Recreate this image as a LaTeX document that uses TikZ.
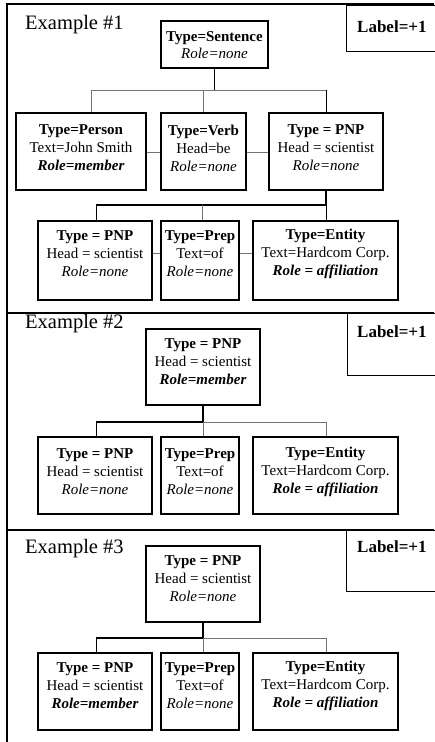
\documentclass[tikz,border=0pt]{standalone}
\usepackage{fontspec}
\setmainfont{Liberation Serif}
\newcommand{\tbx}[7]{%
  \node[box, minimum width=#4pt, minimum height=#5pt] (#1) at (#2,#3) {};
  \node[txt] (#1t) at (#2,#6) {#7};}
\begin{document}
\begin{tikzpicture}[x=1pt,y=-1pt,
  box/.style={draw=black, line width=1.2pt, inner sep=0pt},
  txt/.style={align=center, font=\fontsize{15}{18}\selectfont, inner sep=0pt},
  frame/.style={line width=1.6pt, draw=black},
  thk/.style={line width=1.4pt, draw=black},
  med/.style={line width=1pt, draw=black},
  thn/.style={line width=0.8pt, draw=black!55},
  ex/.style={font=\fontsize{20.5}{23}\selectfont, anchor=base west, inner sep=0pt},
  lab/.style={font=\bfseries\fontsize{17}{20}\selectfont, anchor=base west, inner sep=0pt}]
\useasboundingbox (0,0) rectangle (434,742);
\fill[white] (0,0) rectangle (434,742);

% frame
\draw[frame] (434,4) -- (7,4) -- (7,742);
\draw[frame] (7,313) -- (434,313);
\draw[frame] (7,530) -- (434,530);

% label boxes
\draw[med] (436,5) -- (346,5) -- (346,51) -- (436,51);
\draw[med] (436,313) -- (347,313) -- (347,375) -- (436,375);
\draw[med] (436,530) -- (346,530) -- (346,591) -- (436,591);
\node[lab] (lab1) at (357,32) {Label=+1};
\node[lab] (lab2) at (357,337) {Label=+1};
\node[lab] (lab3) at (357,552) {Label=+1};

\node[ex] (ex1) at (25,29) {Example \#1};
\node[ex] (ex2) at (25,328) {Example \#2};
\node[ex] (ex3) at (25,553) {Example \#3};

% ---------- Example 1 ----------
\tbx{sent}{214.5}{44.5}{107}{47}{45.5}{\textbf{Type=Sentence}\\[-1pt]\textit{Role=none}}
\tbx{person}{81}{151.5}{130}{77}{148}{\textbf{Type=Person}\\Text=John Smith\\\textbf{\textit{Role=member}}}
\tbx{verb}{203.5}{151.5}{85}{77}{148}{\textbf{Type=Verb}\\Head=be\\\textit{Role=none}}
\tbx{pnpa}{326}{151.5}{114}{77}{148}{\textbf{Type = PNP}\\Head = scientist\\\textit{Role=none}}
\tbx{pnpb}{95}{260.5}{114}{79}{253.5}{\textbf{Type = PNP}\\Head = scientist\\\textit{Role=none}}
\tbx{prepa}{200}{260.5}{78}{79}{253.5}{\textbf{Type=Prep}\\Text=of\\\textit{Role=none}}
\tbx{enta}{325.5}{260.5}{145}{79}{253.5}{\textbf{Type=Entity}\\Text=Hardcom Corp.\\\textbf{\textit{Role = affiliation}}}

\coordinate (a1l) at (91,90);
\coordinate (a1m) at (203,90);
\coordinate (a1r) at (326,90);
\draw[thk] (sent.south) -- (sent.south |- a1l);
\draw[thn] (a1l) -- (a1r);
\draw[thn] (a1l) -- (a1l |- person.north);
\draw[thn] (a1m) -- (a1m |- verb.north);
\draw[med] (a1r) -- (pnpa.north);
\draw[thn] (person.east |- 0,152) -- (verb.west |- 0,152);
\draw[thn] (verb.east |- 0,152) -- (pnpa.west |- 0,152);

\coordinate (a2l) at (96,205);
\coordinate (a2m) at (202,205);
\coordinate (a2r) at (326,205);
\draw[thk] (pnpa.south) -- (a2r);
\draw[thk] (a2l) -- (a2r);
\draw[med] (a2l) -- (a2l |- pnpb.north);
\draw[thn] (a2m) -- (a2m |- prepa.north);
\draw[med] (a2r) -- (a2r |- enta.north);
\draw[thn] (pnpb.east |- 0,253) -- (prepa.west |- 0,253);
\draw[thn] (prepa.east |- 0,253) -- (enta.west |- 0,253);

% ---------- Example 2 ----------
\tbx{rootb}{203}{367}{114}{76}{362}{\textbf{Type = PNP}\\Head = scientist\\\textbf{\textit{Role=member}}}
\tbx{pnpc}{95}{475.5}{114}{77}{472}{\textbf{Type = PNP}\\Head = scientist\\\textit{Role=none}}
\tbx{prepb}{200}{475.5}{78}{77}{472}{\textbf{Type=Prep}\\Text=of\\\textit{Role=none}}
\tbx{entb}{325.5}{475.5}{145}{77}{472}{\textbf{Type=Entity}\\Text=Hardcom Corp.\\\textbf{\textit{Role = affiliation}}}

\coordinate (b1l) at (96,422);
\coordinate (b1m) at (203,422);
\coordinate (b1r) at (326,422);
\draw[thk] (rootb.south) -- (b1m);
\draw[thk] (b1l) -- (b1m);
\draw[thn] (b1m) -- (b1r);
\draw[med] (b1l) -- (b1l |- pnpc.north);
\draw[thn] (b1m) -- (b1m |- prepb.north);
\draw[thn] (b1r) -- (b1r |- entb.north);

% ---------- Example 3 ----------
\tbx{rootc}{203}{584}{114}{76}{579}{\textbf{Type = PNP}\\Head = scientist\\\textit{Role=none}}
\tbx{pnpd}{95}{691.5}{114}{77}{686}{\textbf{Type = PNP}\\Head = scientist\\\textbf{\textit{Role=member}}}
\tbx{prepc}{200}{691.5}{78}{77}{686}{\textbf{Type=Prep}\\Text=of\\\textit{Role=none}}
\tbx{entc}{325.5}{691.5}{145}{77}{686}{\textbf{Type=Entity}\\Text=Hardcom Corp.\\\textbf{\textit{Role = affiliation}}}

\coordinate (c1l) at (96,638);
\coordinate (c1m) at (203,638);
\coordinate (c1r) at (326,638);
\draw[thk] (rootc.south) -- (c1m);
\draw[thk] (c1l) -- (c1m);
\draw[thn] (c1m) -- (c1r);
\draw[med] (c1l) -- (c1l |- pnpd.north);
\draw[thn] (c1m) -- (c1m |- prepc.north);
\draw[thn] (c1r) -- (c1r |- entc.north);
\end{tikzpicture}
\end{document}
